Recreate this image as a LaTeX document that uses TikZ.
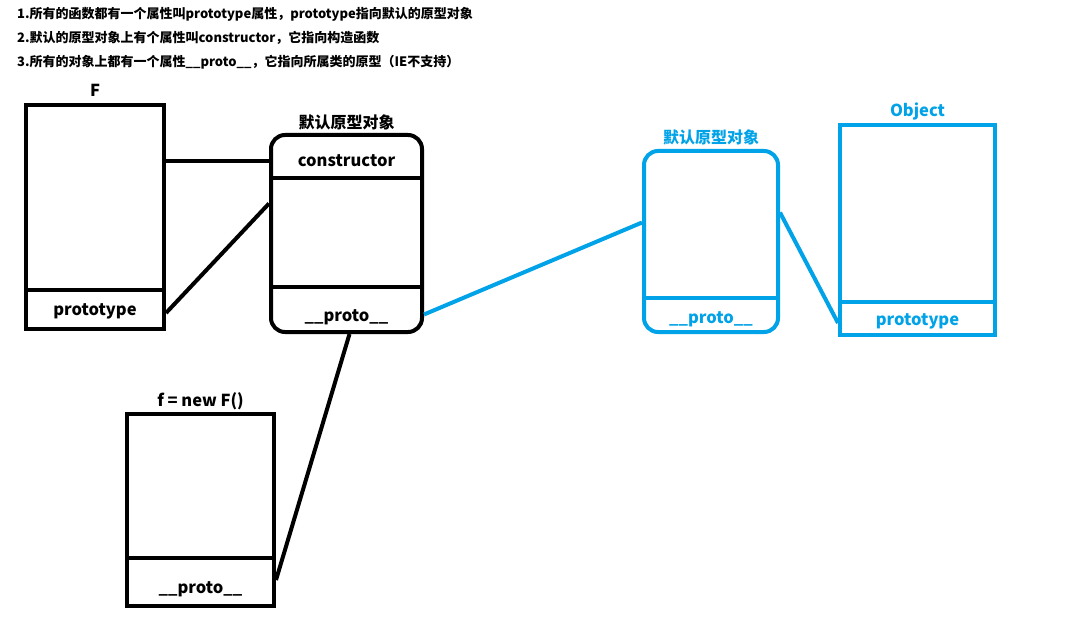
\documentclass[tikz,border=0pt]{standalone}
\usepackage{fontspec}
\setmainfont{Noto Sans CJK SC}
\usetikzlibrary{positioning, calc}
\definecolor{paintblue}{RGB}{0,162,232}

\begin{document}
\begin{tikzpicture}[
        x=1pt, y=-1pt,
        node distance=3pt,
        box/.style={rectangle, draw=black, line width=4pt, inner sep=0pt},
        roundbox/.style={box, rounded corners=14pt},
        bluebox/.style={draw=paintblue},
        cell/.style={font=\fontsize{16.5}{19}\selectfont\bfseries, inner sep=0pt, anchor=base},
        title/.style={font=\fontsize{16.5}{19}\selectfont\bfseries, inner sep=0pt},
        cjktitle/.style={font=\fontsize{16}{18}\selectfont\bfseries, inner sep=0pt},
        note/.style={font=\fontsize{13}{16}\selectfont\bfseries, inner sep=0pt, anchor=base west},
        link/.style={line width=4pt},
        bluelink/.style={link, draw=paintblue},
    ]
        \fill[white] (0,0) rectangle (1081,639);
        \useasboundingbox (0,0) rectangle (1081,639);

        % Notes (top)
        \node[note] (note1) at (17,19) {1.所有的函数都有一个属性叫prototype属性，prototype指向默认的原型对象};
        \node[note] (note2) at (17,43) {2.默认的原型对象上有个属性叫constructor，它指向构造函数};
        \node[note] (note3) at (17,67) {3.所有的对象上都有一个属性\_\_proto\_\_，它指向所属类的原型（IE不支持）};

        % Function F
        \node[box, minimum width=138pt, minimum height=224pt] (F) at (95,217) {};
        \node[title, above=6pt of F] (Ftitle) {F};
        \draw[link] ([yshift=41pt]F.south west) -- ([yshift=41pt]F.south east);
        \node[cell] (Fpt) at ([yshift=16pt]F.south) {prototype};

        % Default prototype object
        \node[roundbox, minimum width=151pt, minimum height=197pt] (P) at (346.5,233.5) {};
        \node[cjktitle, above=of P] (Ptitle) {默认原型对象};
        \draw[link] ([yshift=-45pt]P.north west) -- ([yshift=-45pt]P.north east);
        \draw[link] ([yshift=47pt]P.south west) -- ([yshift=47pt]P.south east);
        \node[cell] (Pcon) at ([yshift=-34pt]P.north) {constructor};
        \node[cell] (Ppro) at ([yshift=13pt]P.south) {\_\_proto\_\_};

        % Instance f
        \node[box, minimum width=147pt, minimum height=192pt] (fo) at (200.5,510) {};
        \node[title, above=2pt of fo] (fotitle) {f = new F()};
        \draw[link] ([yshift=50pt]fo.south west) -- ([yshift=50pt]fo.south east);
        \node[cell] (fpro) at ([yshift=15pt]fo.south) {\_\_proto\_\_};

        % Prototype of the prototype (blue)
        \node[roundbox, bluebox, minimum width=134pt, minimum height=181pt] (Q) at (711,241.5) {};
        \node[cjktitle, text=paintblue, above=4pt of Q] (Qtitle) {默认原型对象};
        \draw[bluelink] ([yshift=36pt]Q.south west) -- ([yshift=36pt]Q.south east);
        \node[cell, text=paintblue] (Qpro) at ([yshift=11pt]Q.south) {\_\_proto\_\_};

        % Object
        \node[box, bluebox, minimum width=155pt, minimum height=210pt] (O) at (917.5,230) {};
        \node[title, text=paintblue, above=3pt of O] (Otitle) {Object};
        \draw[bluelink] ([yshift=35pt]O.south west) -- ([yshift=35pt]O.south east);
        \node[cell, text=paintblue] (Opt) at ([yshift=12pt]O.south) {prototype};

        % Links
        \coordinate (Fc) at ([yshift=-58pt]F.north east);
        \draw[link] (Fc) -- (Fc -| P.west);
        \draw[link] ([yshift=18pt]F.south east) -- ([yshift=30pt]P.west);
        \draw[link] ([xshift=3pt]P.south) -- ([yshift=-70pt]fo.east);
        \draw[bluelink] ([yshift=-81pt]P.east) -- ([yshift=19pt]Q.west);
        \draw[bluelink] ([yshift=29pt]Q.east) -- ([yshift=-93pt]O.west);
    \end{tikzpicture}
\end{document}
